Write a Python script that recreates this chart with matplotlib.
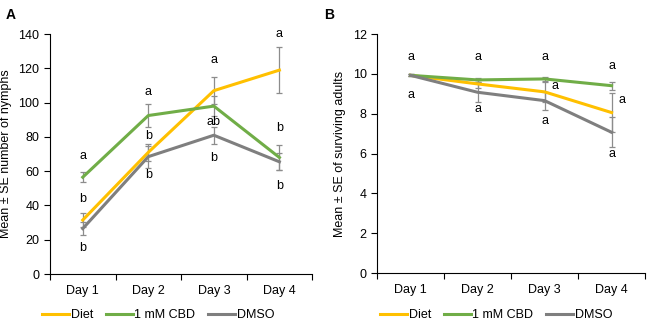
import numpy as np
import matplotlib.pyplot as plt

plt.rcParams['font.family'] = ['Liberation Sans', 'DejaVu Sans']

days = ['Day 1', 'Day 2', 'Day 3', 'Day 4']
series = ['Diet', '1 mM CBD', 'DMSO']
colors = ['#FFC000', '#70AD47', '#7F7F7F']

# panel A: number of nymphs
nymph_mean = [[31.5, 71, 107, 119],
              [56.5, 92.5, 98, 68],
              [26.5, 68.5, 81, 65.5]]
nymph_se = [[4, 5, 8, 13.5],
            [3, 6.5, 6, 7.5],
            [4, 6.5, 5, 5]]
# letters: (day index, y, text)
nymph_letters = [(0, 69, 'a'), (0, 44, 'b'), (0, 15, 'b'),
                 (1, 106, 'a'), (1, 80.5, 'b'), (1, 58, 'b'),
                 (2, 125, 'a'), (2, 89, 'ab'), (2, 68, 'b'),
                 (3, 140, 'a'), (3, 85.5, 'b'), (3, 51.5, 'b')]

# panel B: surviving adults
adult_mean = [[9.93, 9.5, 9.1, 8.06],
              [9.93, 9.7, 9.75, 9.41],
              [9.93, 9.08, 8.66, 7.07]]
adult_se = [[0.05, 0.2, 0.5, 1.0],
            [0.05, 0.1, 0.12, 0.2],
            [0.05, 0.5, 0.45, 0.75]]
adult_letters = [(0, 10.84, 'a'), (0, 8.94, 'a'),
                 (1, 10.84, 'a'), (1, 8.23, 'a'),
                 (2, 10.84, 'a'), (2.15, 9.4, 'a'), (2, 7.65, 'a'),
                 (3, 10.42, 'a'), (3.15, 8.7, 'a'), (3, 5.96, 'a')]

fig = plt.figure(figsize=(6.49, 3.22), dpi=100)
axA = fig.add_axes([0.077, 0.149, 0.404, 0.745])
axB = fig.add_axes([0.581, 0.152, 0.413, 0.742])

x = np.arange(1, 5)


def draw(ax, means, ses, letters, ymax, ystep, ylabel):
    for m, s, c, name in zip(means, ses, colors, series):
        ax.errorbar(x, m, yerr=s, fmt='none', ecolor='#8C8C8C',
                    elinewidth=0.9, capsize=2.2, capthick=0.9, zorder=2)
        ax.plot(x, m, color=c, lw=2.2, label=name, zorder=3)
    for d, y, t in letters:
        ax.text(d + 1, y, t, ha='center', va='center', fontsize=9)
    ax.set_xlim(0.5, 4.5)
    ax.set_ylim(0, ymax)
    ax.set_yticks(np.arange(0, ymax + 1e-9, ystep))
    ax.set_xticks(x)
    ax.set_xticklabels(days)
    ax.set_xticks(np.arange(0.5, 4.6, 1), minor=True)
    ax.tick_params(axis='x', which='major', length=0, pad=8, labelsize=9)
    ax.tick_params(axis='x', which='minor', length=4, width=0.8, direction='out')
    ax.tick_params(axis='y', length=4, width=0.8, direction='out', labelsize=9)
    for sp in ['top', 'right']:
        ax.spines[sp].set_visible(False)
    for sp in ['left', 'bottom']:
        ax.spines[sp].set_linewidth(0.8)
    ax.set_ylabel(ylabel, fontsize=9, labelpad=5)


draw(axA, nymph_mean, nymph_se, nymph_letters, 140, 20,
     'Mean \u00b1 SE number of nymphs')
draw(axB, adult_mean, adult_se, adult_letters, 12, 2,
     'Mean \u00b1 SE of surviving adults')

leg_kw = dict(loc='center', bbox_transform=fig.transFigure, ncol=3,
              frameon=False, fontsize=9, handlelength=2.2,
              handletextpad=0.1, columnspacing=1.0)
axA.legend(bbox_to_anchor=(158 / 649, 1 - 315 / 322), **leg_kw)
axB.legend(bbox_to_anchor=(496 / 649, 1 - 315 / 322), **leg_kw)

fig.text(0.008, 0.975, 'A', fontsize=10, fontweight='bold', va='top')
fig.text(0.500, 0.975, 'B', fontsize=10, fontweight='bold', va='top')

fig.savefig('out.png', dpi=100)
